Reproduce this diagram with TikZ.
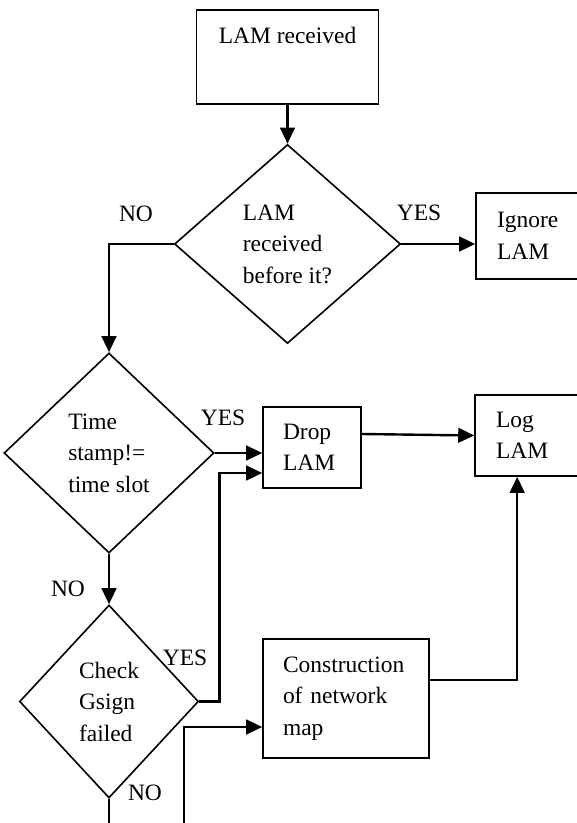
\documentclass[tikz,border=0pt]{standalone}
\usepackage{fontspec}
\setmainfont{Liberation Serif}
\usetikzlibrary{shapes.geometric,arrows.meta,calc}
\begin{document}
\begin{tikzpicture}
[x=0.75pt,y=-0.75pt,%
  font=\fontsize{17.6pt}{23.6pt}\selectfont,%
  boxdecorate/.style={shape=rectangle,draw,line width=1.2pt,align=left,inner ysep=0pt},%
  diamonddecorate/.style={shape=diamond,draw,line width=1.2pt,align=left,inner sep=0pt},%
  linedecorate/.style={-{Triangle[length=12pt,width=11pt]},line width=1.8pt},%
  plaindecorate/.style={-,line width=1.8pt},%
  labeldecorate/.style={inner sep=0pt}]
\useasboundingbox (0,0) rectangle (577,823);
%% boxes
\node (recv) at (287.5,9) [boxdecorate,anchor=north,align=center,minimum width=136.5pt,
  text height=12pt,text depth=31.5pt,inner ysep=13.5pt] {LAM received};
\node (ignore) at (546,236) [boxdecorate,text width=73.5pt,inner xsep=15.75pt,minimum height=64.5pt] {Ignore\\LAM};
\node (drop) at (312,447.5) [boxdecorate,text width=43.5pt,inner xsep=15pt,minimum height=60.75pt] {Drop\\LAM};
\node (log) at (545,435.5) [boxdecorate,text width=73.5pt,inner xsep=15.75pt,minimum height=60.75pt] {Log\\LAM};
\node (cons) at (346,698.5) [boxdecorate,text width=94.5pt,inner xsep=15pt,minimum height=89.25pt] {Construction\\of network\\map};
%% decisions
\node (lamq) at (287.5,244) [diamonddecorate,minimum width=169.5pt,minimum height=149.25pt] {LAM\\received\\before it?};
\node (tsq) at (109,453) [diamonddecorate,minimum width=157.5pt,minimum height=150pt] {Time\\stamp!=\\time slot};
\node (gsq) at (109,701.5) [diamonddecorate,minimum width=134.25pt,minimum height=144.75pt] {Check\\Gsign\\failed};
%% free ends at the bottom
\coordinate (gsout) at (109,830);
\coordinate (mapin) at (184,830);
%% labels
\foreach \labelname/\x/\y/\labeltext in {nolam/136/214/NO, yeslam/419/213/YES,
  yests/223/418/YES, nots/68/589/NO, yesgs/185/658/YES, nogs/145/793/NO} {
  \node (\labelname) at (\x,\y) [labeldecorate] {\labeltext};
}
%% connectors
\draw[linedecorate] (recv) -- (lamq);
\draw[linedecorate] (lamq.west) -| (tsq.north);
\draw[linedecorate] (lamq.east) -- (lamq.east -| ignore.west);
\draw[linedecorate] (tsq.east) -- (tsq.east -| drop.west);
\draw[linedecorate] (gsq.east) -- ++(20,0) |- ($(drop.west)+(0,25.5)$);
\draw[linedecorate] ($(drop.east)+(0,-13.5)$) -- (log.west);
\draw[linedecorate] (tsq) -- (gsq);
\draw[plaindecorate] (gsq.south) -- (gsout);
\draw[linedecorate] (mapin) |- ($(cons.west)+(0,28.5)$);
\draw[linedecorate] ($(cons.east)+(0,-18.5)$) -| ($(log.south west)+(43,0)$);
\end{tikzpicture}
\end{document}
